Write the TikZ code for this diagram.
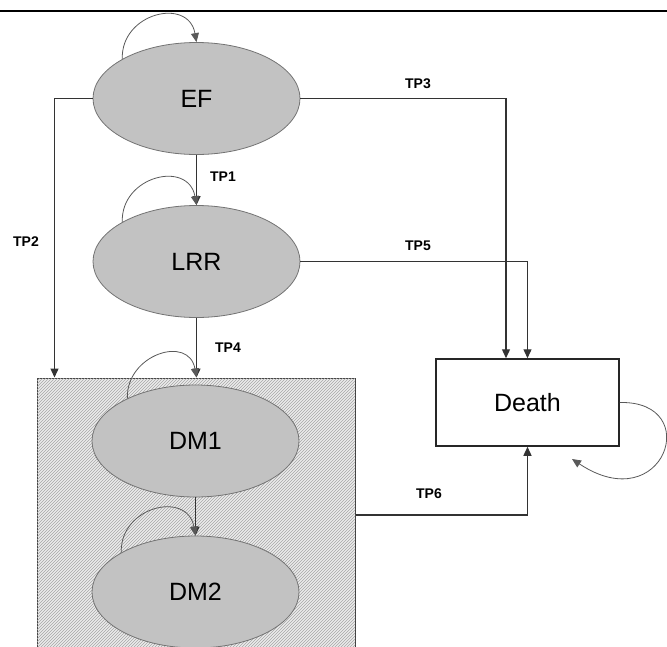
\documentclass[tikz,border=0pt]{standalone}
\usepackage{fontspec}
\setmainfont{Liberation Sans}
\usetikzlibrary{shapes.geometric,arrows.meta,patterns}

\begin{document}
\begin{tikzpicture}[x=1pt, y=1pt,
                    state_style/.style={ellipse, draw=black!55, line width=0.8pt, fill=black!24,
                                        minimum width=207, minimum height=112, inner sep=0pt,
                                        font=\fontsize{25}{30}\selectfont},
                    death_style/.style={rectangle, draw=black!85, line width=1.5pt, fill=white,
                                        minimum width=183, minimum height=87,
                                        font=\fontsize{25}{30}\selectfont},
                    box_style/.style={rectangle, draw=black!75, line width=1pt, fill=black!8,
                                      postaction={pattern=north east lines, pattern color=black!35},
                                      minimum width=318, minimum height=274},
                    edge_style/.style={-{Triangle[length=9pt,width=8pt]}, draw=black!80, line width=1.3pt},
                    loop_style/.style={-{Triangle[length=9pt,width=8pt]}, draw=black!65, line width=0.8pt},
                    tp/.style={font=\fontsize{14}{16}\selectfont\bfseries, inner sep=0pt}
   ]
   \clip (0,0) rectangle (667,-646);
   \draw[line width=2.5pt] (0,-11) -- (667,-11);

   \node[state_style] (ef) at (196.5,-98.5) {EF};
   \node[state_style] (lrr) at (196.5,-261.5) {LRR};
   \node[box_style] (dm) at (196,-515) {};
   \node[state_style] (dm1) at (195.5,-441) {DM1};
   \node[state_style] (dm2) at (195.5,-592) {DM2};
   \node[death_style] (death) at (527.5,-402.5) {Death};
   \coordinate (tp4end) at (lrr.south |- dm.north);
   \coordinate (deathloop) at (572,-459);

   % Transitions
   \draw[edge_style] (ef) -- (lrr);
   \draw[edge_style] (ef.west) -| ([xshift=18]dm.north west);
   \draw[edge_style] (ef.east) -| ([xshift=-21.5]death.north);
   \draw[edge_style] (lrr.south) -- (tp4end);
   \draw[edge_style] (lrr.east) -| (death.north);
   \draw[edge_style] (dm.east) -| (death.south);
   \draw[edge_style, line width=1pt] (dm1) -- (dm2);

   \node[tp] (tp1) at (223,-177) {TP1};
   \node[tp] (tp2) at (26,-242) {TP2};
   \node[tp] (tp3) at (418,-84) {TP3};
   \node[tp] (tp4) at (228,-348) {TP4};
   \node[tp] (tp5) at (418,-246) {TP5};
   \node[tp] (tp6) at (429,-494) {TP6};

   % Staying in the same state
   \draw[loop_style] (ef.152) to[out=92, in=100, looseness=1.55] (ef.north);
   \draw[loop_style] (lrr.152) to[out=92, in=100, looseness=1.55] (lrr.north);
   \draw[loop_style] (dm1.148) to[out=92, in=100, looseness=1.55] (tp4end);
   \draw[loop_style] (dm2.152) to[out=92, in=100, looseness=1.55] (dm2.north);
   \draw[loop_style] (death.east) .. controls +(85,2) and +(92,-61) .. (deathloop);
\end{tikzpicture}
\end{document}
